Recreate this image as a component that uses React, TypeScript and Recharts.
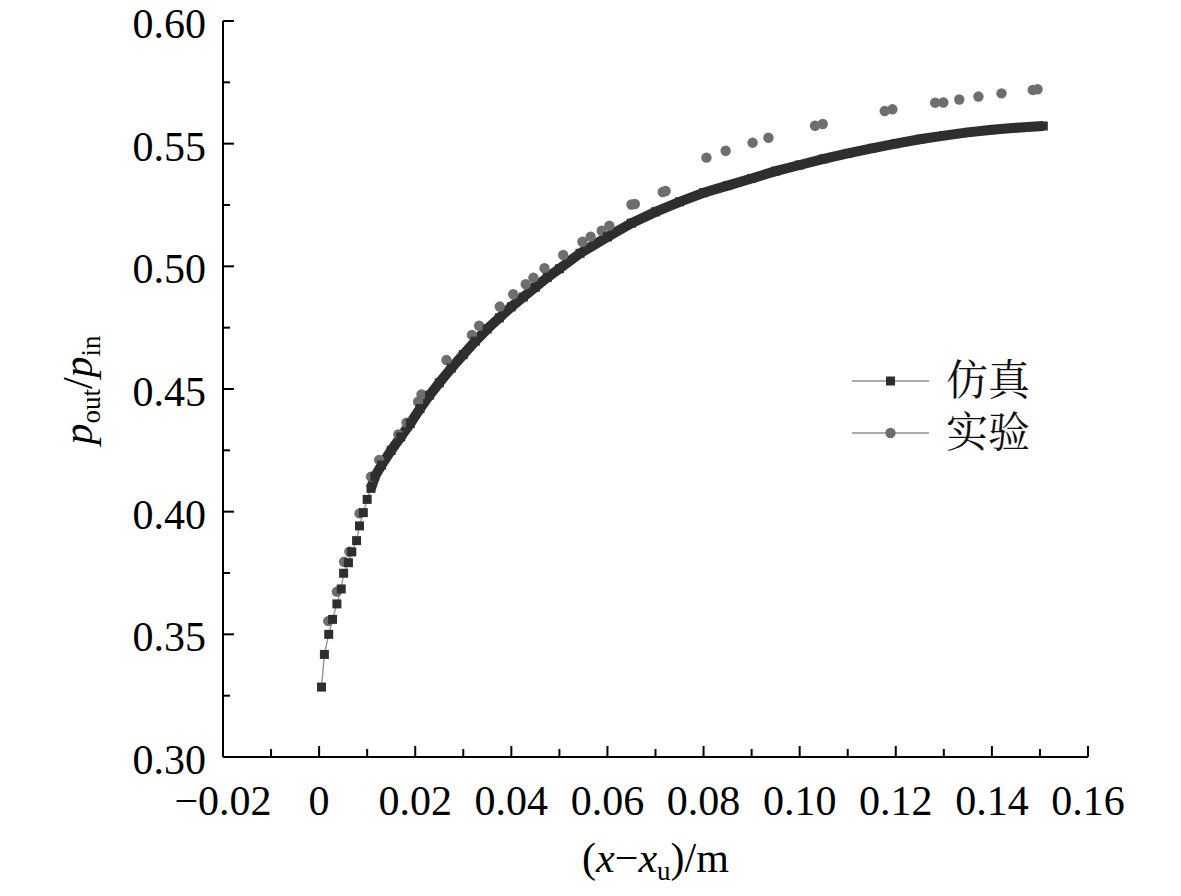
import { ComposedChart, Legend, Line, Scatter, XAxis, YAxis } from "recharts";

// simulation (仿真): separate squares near the origin, a dense band afterwards
const simX = [
  0.0005, 0.0011, 0.002, 0.0028, 0.0037, 0.0046, 0.0051, 0.0061, 0.0068,
  0.0078, 0.0084, 0.0092, 0.01, 0.0108, 0.0116, 0.013, 0.015, 0.017, 0.019,
  0.021, 0.023, 0.025, 0.0275, 0.03, 0.0325, 0.035, 0.0375, 0.04, 0.0425,
  0.045, 0.0475, 0.05, 0.0543, 0.06, 0.065, 0.07, 0.075, 0.08, 0.085, 0.09,
  0.095, 0.1, 0.105, 0.11, 0.115, 0.12, 0.125, 0.13, 0.135, 0.14, 0.145,
  0.1507,
];
const simY = [
  0.3285, 0.3418, 0.35, 0.3561, 0.3624, 0.3685, 0.3749, 0.3792, 0.3836,
  0.3882, 0.3942, 0.3996, 0.405, 0.4095, 0.4143, 0.419, 0.425, 0.4305, 0.436,
  0.442, 0.4475, 0.4525, 0.4585, 0.464, 0.4695, 0.4745, 0.479, 0.4835, 0.4875,
  0.4915, 0.4955, 0.499, 0.5053, 0.512, 0.5176, 0.5222, 0.5263, 0.53, 0.5329,
  0.5358, 0.5388, 0.5413, 0.5438, 0.546, 0.5481, 0.55, 0.5518, 0.5533, 0.5546,
  0.5557, 0.5565, 0.5572,
];

// experiment (实验)
const expX = [
  0.0019, 0.0037, 0.0052, 0.0063, 0.0084, 0.0108, 0.0125, 0.0165, 0.0182,
  0.0206, 0.0213, 0.0265, 0.0318, 0.0333, 0.0376, 0.0404, 0.043, 0.0446,
  0.0469, 0.0508, 0.0548, 0.0565, 0.0588, 0.0604, 0.065, 0.0657, 0.0715,
  0.0721, 0.0806, 0.0846, 0.0902, 0.0935, 0.1032, 0.1048, 0.1177, 0.1193,
  0.1282, 0.1299, 0.1332, 0.1372, 0.142, 0.1485, 0.1495,
];
const expY = [
  0.3554, 0.3674, 0.3796, 0.3837, 0.3993, 0.4143, 0.4211, 0.4315, 0.4363,
  0.4448, 0.4478, 0.4618, 0.472, 0.4758, 0.4836, 0.4886, 0.4927, 0.4954,
  0.4992, 0.5046, 0.51, 0.5121, 0.5145, 0.5166, 0.5252, 0.5254, 0.5303,
  0.5307, 0.5443, 0.5471, 0.5504, 0.5524, 0.5573, 0.558, 0.5633, 0.564,
  0.5667, 0.5668, 0.568, 0.5692, 0.5705, 0.5719, 0.5722,
];

const xTicks = [
  -0.02, -0.01, 0, 0.01, 0.02, 0.03, 0.04, 0.05, 0.06, 0.07, 0.08, 0.09, 0.1,
  0.11, 0.12, 0.13, 0.14, 0.15, 0.16,
];
const xTickLabels = [
  "\u22120.02", "", "0", "", "0.02", "", "0.04", "", "0.06", "", "0.08", "",
  "0.10", "", "0.12", "", "0.14", "", "0.16",
];
const yTicks = [
  0.3, 0.325, 0.35, 0.375, 0.4, 0.425, 0.45, 0.475, 0.5, 0.525, 0.55, 0.575,
  0.6,
];
const yTickLabels = [
  "0.30", "", "0.35", "", "0.40", "", "0.45", "", "0.50", "", "0.55", "", "0.60",
];

const seriesNames = ["仿真", "实验"];

const simData = simX.map((x, i) => ({ x, y: simY[i] }));
const bandData = simData.filter((d) => d.x >= 0.0108);
const expData = expX.map((x, i) => ({ x, y: expY[i] }));

const SERIF = '"Liberation Serif", "Times New Roman", serif';
// serif metrics first so the legend rows don't get tall CJK line boxes
const CJK = '"Liberation Serif", "Noto Serif CJK SC", "Noto Sans CJK SC", serif';
const INK = "#000";
const SIM = "#2e2e2e";
const EXP = "#6e6e6e";

function XTick(props: any) {
  const { x, y, index } = props;
  const label = xTickLabels[index];
  const len = label ? 11 : 8;
  return (
    <g>
      {index > 0 && (
        <line x1={x} x2={x} y1={y} y2={y - len} stroke={INK} strokeWidth={2} />
      )}
      {label && (
        <text
          x={x}
          y={y + 58}
          textAnchor="middle"
          fontFamily={SERIF}
          fontSize={42}
          fill={INK}
        >
          {label}
        </text>
      )}
    </g>
  );
}

function YTick(props: any) {
  const { x, y, index } = props;
  const label = yTickLabels[index];
  const len = label ? 11 : 7;
  return (
    <g>
      {index > 0 && (
        <line x1={x} x2={x + len} y1={y} y2={y} stroke={INK} strokeWidth={2} />
      )}
      {label && (
        <text
          x={x - 17}
          y={y + 17}
          textAnchor="end"
          fontFamily={SERIF}
          fontSize={42}
          fill={INK}
        >
          {label}
        </text>
      )}
    </g>
  );
}

function XLabel({ viewBox }: any) {
  const cx = viewBox.x + viewBox.width / 2;
  const by = viewBox.y + 115;
  return (
    <text x={cx} y={by} textAnchor="middle" fontFamily={SERIF} fontSize={42} fill={INK}>
      <tspan>(</tspan>
      <tspan fontStyle="italic">x</tspan>
      <tspan>{"\u2212"}</tspan>
      <tspan fontStyle="italic">x</tspan>
      <tspan fontSize={27} dy={8}>u</tspan>
      <tspan dy={-8}>)/m</tspan>
    </text>
  );
}

function YLabel({ viewBox }: any) {
  const bx = viewBox.x + 92;
  const cy = viewBox.y + viewBox.height / 2 + 1;
  return (
    <text
      x={bx}
      y={cy}
      transform={`rotate(-90, ${bx}, ${cy})`}
      textAnchor="middle"
      fontFamily={SERIF}
      fontSize={42}
      fill={INK}
    >
      <tspan fontStyle="italic">p</tspan>
      <tspan fontSize={27} dy={8}>out</tspan>
      <tspan dy={-8}>/</tspan>
      <tspan fontStyle="italic">p</tspan>
      <tspan fontSize={27} dy={8}>in</tspan>
    </text>
  );
}

function SquareDot(props: any) {
  const { cx, cy, index } = props;
  if (cx == null || cy == null) return <g key={`s${index}`} />;
  return (
    <rect key={`s${index}`} x={cx - 4.5} y={cy - 4.5} width={9} height={9} fill={SIM} />
  );
}

function CircleDot(props: any) {
  const { cx, cy } = props;
  return <circle cx={cx} cy={cy} r={5.2} fill={EXP} />;
}

function LegendBox() {
  return (
    <div>
      {seriesNames.map((name, i) => (
        <div key={name} style={{ display: "flex", alignItems: "center", height: 52 }}>
          <svg width={96} height={52}>
            <line x1={2} x2={79} y1={26} y2={26} stroke="#acacac" strokeWidth={2} />
            {i === 0 ? (
              <rect x={36} y={21.5} width={9} height={9} fill={SIM} />
            ) : (
              <circle cx={40.5} cy={26} r={5.2} fill={EXP} />
            )}
          </svg>
          <span
            style={{
              fontFamily: CJK,
              fontSize: 42,
              lineHeight: "52px",
              color: "#111",
              whiteSpace: "nowrap",
            }}
          >
            {name}
          </span>
        </div>
      ))}
    </div>
  );
}

export default function App() {
  return (
    <div
      style={{
        position: "absolute",
        left: 0,
        top: 0,
        width: 1181,
        height: 896,
        background: "#fff",
      }}
    >
      <ComposedChart
        width={1181}
        height={896}
        margin={{ top: 21, right: 93, bottom: 0, left: 0 }}
      >
        <XAxis
          type="number"
          dataKey="x"
          domain={[-0.02, 0.16]}
          ticks={xTicks}
          interval={0}
          allowDataOverflow
          height={139}
          tickSize={0}
          tickMargin={0}
          tickLine={false}
          axisLine={{ stroke: INK, strokeWidth: 2 }}
          tick={<XTick />}
          label={{ content: XLabel }}
        />
        <YAxis
          type="number"
          dataKey="y"
          domain={[0.3, 0.6]}
          ticks={yTicks}
          interval={0}
          allowDataOverflow
          width={223}
          tickSize={0}
          tickMargin={0}
          tickLine={false}
          axisLine={{ stroke: INK, strokeWidth: 2 }}
          tick={<YTick />}
          label={{ content: YLabel }}
        />
        <Legend
          layout="vertical"
          align="center"
          verticalAlign="middle"
          content={<LegendBox />}
          wrapperStyle={{ left: 850, top: 355, width: 240 }}
        />
        <Scatter
          name={seriesNames[1]}
          data={expData}
          dataKey="y"
          fill={EXP}
          shape={<CircleDot />}
          isAnimationActive={false}
        />
        <Line
          name={seriesNames[0]}
          data={simData}
          dataKey="y"
          type="linear"
          stroke="#9a9a9a"
          strokeWidth={1.5}
          dot={SquareDot}
          activeDot={false}
          isAnimationActive={false}
        />
        <Line
          data={bandData}
          dataKey="y"
          type="linear"
          stroke={SIM}
          strokeWidth={10}
          dot={false}
          activeDot={false}
          legendType="none"
          isAnimationActive={false}
        />
      </ComposedChart>
    </div>
  );
}
